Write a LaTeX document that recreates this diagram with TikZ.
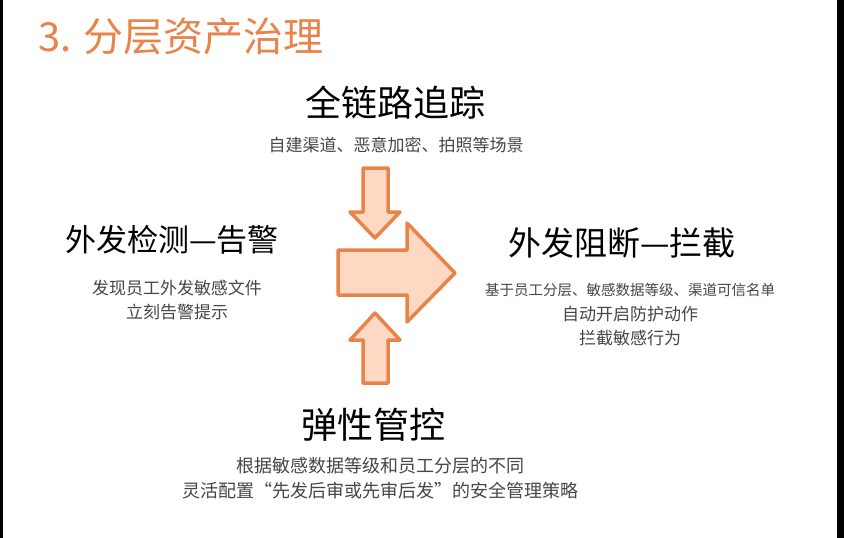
\documentclass[tikz,border=0pt]{standalone}
\usepackage{fontspec}
\usepackage{tikz}
\usetikzlibrary{positioning}
\newfontfamily\cjk{Noto Sans CJK SC}
\usepackage{xcolor}
\definecolor{accentorange}{RGB}{232,131,74}
\definecolor{peachfill}{RGB}{253,217,196}
\definecolor{notegray}{RGB}{70,70,70}

\tikzset{
  heading/.style={font=\cjk\fontsize{34}{40}\selectfont, text=black, inner sep=0pt},
  note/.style={font=\cjk\fontsize{17}{24.5}\selectfont, text=notegray, align=center, inner sep=0pt},
  bigarrow/.style={draw=accentorange, fill=peachfill, line width=3.5pt, line join=round}
}

\begin{document}
\begin{tikzpicture}[x=1pt, y=-1pt]
\useasboundingbox (0,0) rectangle (844,538);
\fill[white] (0,0) rectangle (844,538);
% frame edges
\fill[black] (0,0) rectangle (3,538);
\fill[black] (837,0) rectangle (844,538);

% title
\node[anchor=west, inner sep=0pt, font=\cjk\fontsize{40}{44}\selectfont, text=accentorange] (title) at (38,36) {3. 分层资产治理};

% four blocks
\node[heading, font=\cjk\fontsize{36}{40}\selectfont] (trace) at (395,103) {全链路追踪};
\node[note] (tracenote) at (396,145) {自建渠道、恶意加密、拍照等场景};

\node[heading, font=\cjk\fontsize{31}{36}\selectfont] (detect) at (172,240) {外发检测—告警};
\node[note] (detectnote) at (177,300) {发现员工外发敏感文件\\立刻告警提示};

\node[heading, font=\cjk\fontsize{33}{38}\selectfont] (block) at (622,243) {外发阻断—拦截};
\node[note] (blocknote) at (630,315) {{\fontsize{14.5}{24.5}\selectfont 基于员工分层、敏感数据等级、渠道可信名单}\\自动开启防护动作\\拦截敏感行为};

\node[heading, font=\cjk\fontsize{36}{40}\selectfont] (flex) at (373,425) {弹性管控};
\node[note, font=\cjk\fontsize{18}{24.5}\selectfont] (flexnote) at (380,478) {根据敏感数据等级和员工分层的不同\\灵活配置“先发后审或先审后发”的安全管理策略};

% arrows
\draw[bigarrow] (363,168) -- (388,168) -- (388,212) -- (400,212) -- (375,238) -- (350,212) -- (363,212) -- cycle;
\draw[bigarrow] (338,250) -- (407,250) -- (407,223) -- (455,273) -- (407,322) -- (407,295) -- (338,295) -- cycle;
\draw[bigarrow] (375,313) -- (400,340) -- (388,340) -- (388,383) -- (363,383) -- (363,340) -- (350,340) -- cycle;
\end{tikzpicture}
\end{document}
